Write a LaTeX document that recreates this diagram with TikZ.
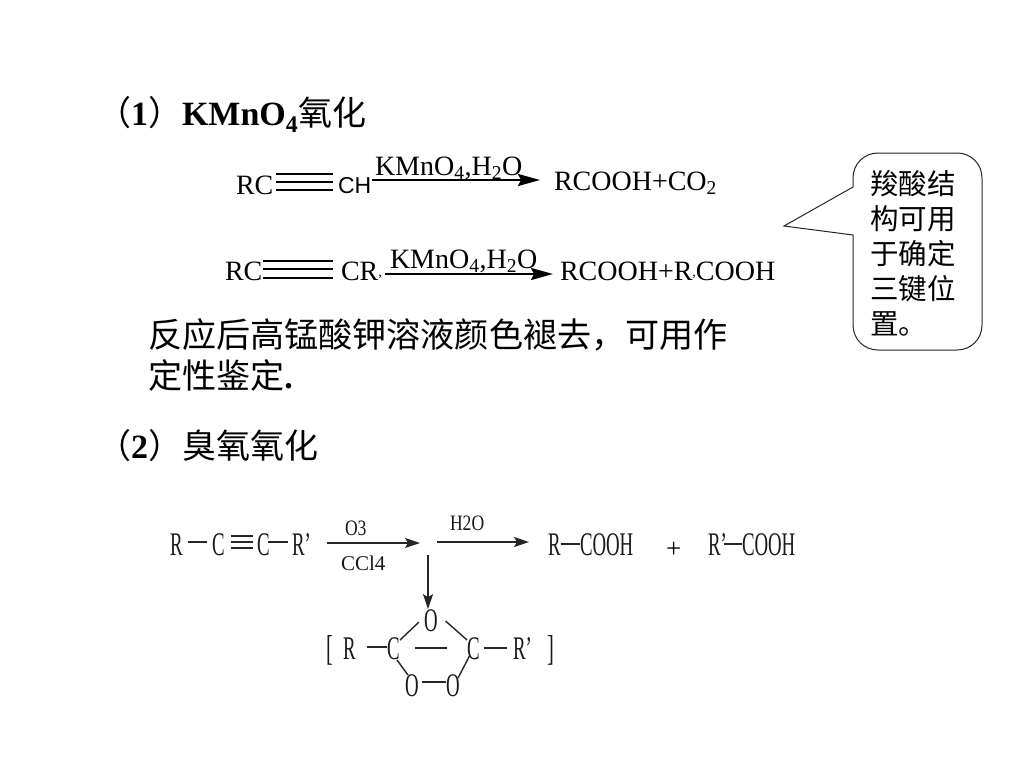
\documentclass[tikz,border=0pt]{standalone}
\usepackage{fontspec}
\usetikzlibrary{arrows.meta}
\setmainfont{Liberation Serif}
\newfontfamily\cjk{Noto Sans CJK SC}
\newfontfamily\narrowf[FakeStretch=0.57]{Liberation Serif}
\newfontfamily\midf[FakeStretch=0.8]{Liberation Serif}
\newfontfamily\sansf{Liberation Sans}
\newcommand{\fs}[1]{\fontsize{#1}{#1}\selectfont}
\newcommand{\subs}[1]{\textsubscript{#1}}
\tikzset{
  txt/.style={anchor=base west,inner sep=0pt,outer sep=0pt,text=black},
  heading/.style={txt,font=\fs{34}},
  body/.style={txt,font=\fs{34.1}},
  chem/.style={txt,font=\fs{28}},
  reagent/.style={txt,font=\fs{28}},
  old/.style={txt,font=\narrowf\fs{33},text=black!90},
  oldsmall/.style={txt,font=\midf\fs{22},text=black!90},
  bondline/.style={draw=black,line width=2.4pt},
  oldbond/.style={draw=black!85,line width=1.4pt},
  rarrow/.style={draw=black,line width=2.4pt,-{Stealth[length=22pt,width=12pt,inset=3pt]}},
  oldarrow/.style={draw=black!85,line width=1.3pt,-{Stealth[length=15pt,width=10pt,inset=3pt]}},
  callout/.style={draw=black!85,line width=1pt,fill=white}
}
\begin{document}
\begin{tikzpicture}[x=1pt,y=-1pt]
\useasboundingbox[fill=white] (0,0) rectangle (1024,768);
% headings
\node[heading] (h1) at (97,125) {{\cjk （}\textbf{1}{\cjk ）}\textbf{KMnO\subs{4}}{\cjk 氧化}};
\node[heading] (h2) at (97,458) {{\cjk （}\textbf{2}{\cjk ）臭氧氧化}};
\node[body] (b1) at (148,347) {\cjk 反应后高锰酸钾溶液颜色褪去，可用作};
\node[body] (b2) at (148,388) {{\cjk 定性鉴定}\textbf{.}};
% reaction 1
\node[chem] (rc1) at (236,194) {RC};
\node[txt,font=\sansf\fs{23}] (ch) at (338,193) {CH};
\node[reagent] (k1) at (375,175) {KMnO\subs{4},H\subs{2}O};
\node[chem] (p1) at (554,190) {RCOOH+CO\subs{2}};
\foreach \yy in {174,182,190} \draw[bondline] ([xshift=3pt]rc1.east |- 0,\yy) -- ([xshift=-5pt]ch.west |- 0,\yy);
\draw[rarrow] ([xshift=1pt]ch.east |- 0,180) -- ([xshift=-14pt]p1.west |- 0,180);
% reaction 2
\node[chem] (rc2) at (225,280) {RC};
\node[chem] (cr) at (341,280) {CR\raisebox{4pt}{\fs{14},}};
\node[reagent] (k2) at (390,268) {KMnO\subs{4},H\subs{2}O};
\node[chem] (p2) at (560,280) {RCOOH+R\raisebox{4pt}{\fs{14},}COOH};
\foreach \yy in {261,269,278} \draw[bondline] ([xshift=1pt]rc2.east |- 0,\yy) -- ([xshift=-8pt]cr.west |- 0,\yy);
\draw[rarrow] ([xshift=3pt]cr.east |- 0,274) -- ([xshift=-7pt]p2.west |- 0,274);
% callout
\draw[callout] (853,187) -- (853,178) .. controls (853,164) and (864,153) .. (878,153)
  -- (957,153) .. controls (971,153) and (982,164) .. (982,178)
  -- (982,325) .. controls (982,339) and (971,350) .. (957,350)
  -- (878,350) .. controls (864,350) and (853,339) .. (853,325)
  -- (853,235) -- (784,226) -- cycle;
\node[anchor=north west,inner sep=0pt,align=left,font=\cjk\fontsize{28.5}{35}\selectfont] (note) at (870,170)
  {羧酸结\\构可用\\于确定\\三键位\\置。};
% ozonolysis top row
\node[old] (r1) at (170,555) {R};
\node[old] (c1) at (212,555) {C};
\node[old] (c2) at (257,555) {C};
\node[old] (r2) at (292,555) {R’};
\draw[oldbond] ([xshift=5pt]r1.east |- 0,542) -- ([xshift=-5pt]c1.west |- 0,542);
\foreach \yy in {536,542,548} \draw[oldbond] ([xshift=6pt]c1.east |- 0,\yy) -- ([xshift=-4pt]c2.west |- 0,\yy);
\draw[oldbond] ([xshift=-2pt]c2.east |- 0,542) -- ([xshift=-4pt]r2.west |- 0,542);
\coordinate (a1s) at (327,543);
\coordinate (a1e) at (420,543);
\draw[oldarrow] (a1s) -- (a1e);
\node[oldsmall] (o3) at (345,535) {O3};
\node[txt,font=\fs{21},text=black!90] (ccl) at (341,570) {CCl4};
\coordinate (a2s) at (437,542);
\node[old] (r3) at (548,555) {R};
\draw[oldarrow] (a2s) -- ([xshift=-19pt]r3.west |- 0,542);
\node[oldsmall] (h2o) at (450,530) {H2O};
\node[old] (cooh1) at (580,555) {COOH};
\draw[oldbond] (r3.east |- 0,544) -- (cooh1.west |- 0,544);
\node[txt,font=\fs{27}] (plus) at (666,557) {+};
\node[old] (r4) at (708,555) {R’};
\node[old] (cooh2) at (742,555) {COOH};
\draw[oldbond] ([xshift=-3pt]r4.east |- 0,544) -- (cooh2.west |- 0,544);
% vertical arrow
\coordinate (vs) at (428,555);
\node[old] (otop) at (424,631) {O};
\draw[oldarrow] (vs) -- (vs |- otop.north);
% ring intermediate
\node[txt,font=\narrowf\fs{36},text=black!90] (lb) at (326,660) {[};
\node[old] (r5) at (343,659) {R};
\node[old] (cl) at (387,659) {C};
\node[old] (cr2) at (467,659) {C};
\node[old] (r6) at (513,659) {R’};
\node[txt,font=\narrowf\fs{36},text=black!90] (rb) at (547,660) {]};
\node[old] (ol) at (405,696) {O};
\node[old] (or) at (446,696) {O};
\draw[oldbond] ([xshift=11pt]r5.east |- 0,647) -- (cl.west |- 0,647);
\draw[oldbond] ([xshift=4pt]cr2.east |- 0,648) -- ([xshift=-6pt]r6.west |- 0,648);
\draw[oldbond] (400,640) -- ([xshift=-5pt]otop.west |- 0,622);
\draw[oldbond] ([xshift=8pt]otop.east |- 0,621) -- (467,640);
\coordinate (ml) at (415,648);
\coordinate (mr) at (447,648);
\draw[oldbond] (ml) -- (mr);
\draw[oldbond] (397,660) -- (408,675);
\draw[oldbond] (470,655) -- (458,678);
\draw[oldbond] ([xshift=3pt]ol.east |- 0,682) -- (or.west |- 0,682);
\end{tikzpicture}
\end{document}
